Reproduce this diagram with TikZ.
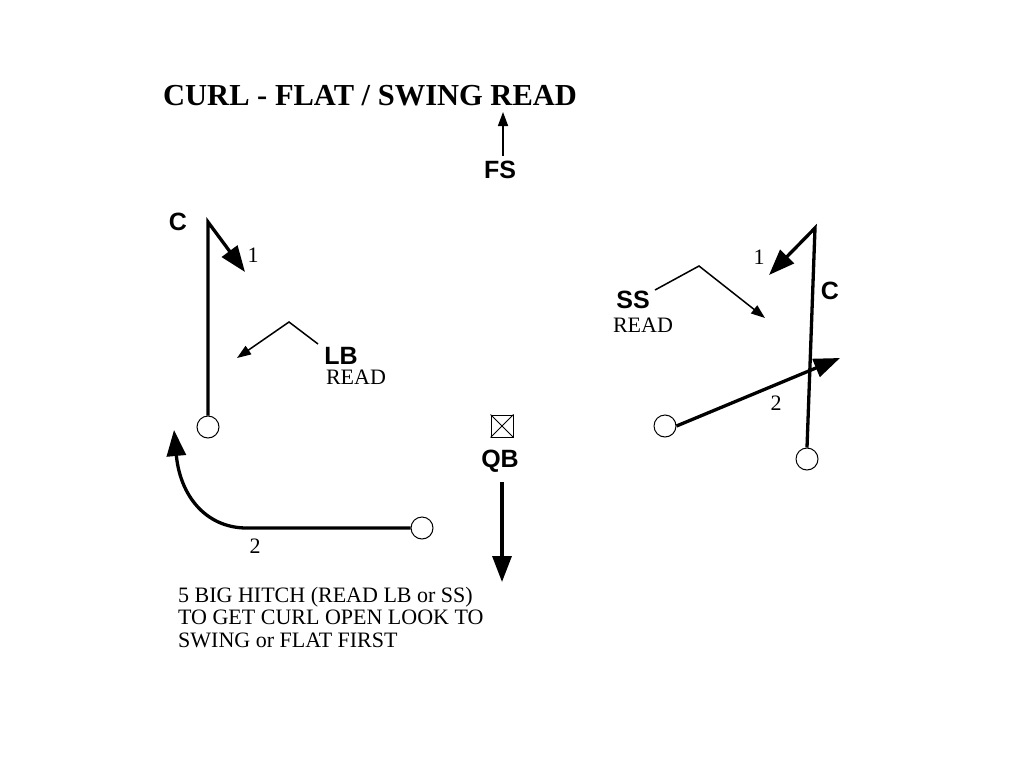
\documentclass[tikz,border=0pt]{standalone}
\usepackage{fontspec}
\setmainfont{Liberation Serif}
\setsansfont{Liberation Sans}
\usetikzlibrary{arrows.meta}
\begin{document}
\begin{tikzpicture}[x=1pt,y=-1pt,
  player/.style={draw,circle,minimum size=22pt,inner sep=0pt,line width=1pt},
  route/.style={line width=3.3pt,-{Triangle[length=26pt,width=19pt]}},
  thinarrow/.style={line width=1.5pt,-{Triangle[length=14pt,width=10pt]}},
  lbl/.style={font=\sffamily\bfseries\fontsize{25}{28}\selectfont,inner sep=0pt},
  txt/.style={font=\fontsize{22}{22.5}\selectfont,inner sep=0pt}]
\useasboundingbox (0,0) rectangle (1024,768);
% title
\node[anchor=west,inner sep=0pt,font=\bfseries\fontsize{30.5}{32}\selectfont] (title) at (163,96) {CURL - FLAT / SWING READ};
% FS
\node[lbl] (fs) at (500,170) {FS};
\coordinate (fstip) at (503,112);
\draw[thinarrow] (503,156) -- (fstip);
% left C
\node[player] (lc) at (208,427) {};
\node[lbl] (lcl) at (178,222) {C};
\node[txt] (l1) at (253,255) {1};
\coordinate (lctop) at (208,222);
\coordinate (lctip) at (245,272);
\draw[route,line join=miter] (lc.north) -- (lctop) -- (lctip);
% LB
\node[txt] (lbread) at (356,377) {READ};
\node[lbl,fill=white,inner sep=1pt] (lb) at (341,356) {LB};
\coordinate (lbm) at (289,322);
\coordinate (lbtip) at (237,358);
\draw[thinarrow] (318,344) -- (lbm) -- (lbtip);
% left bottom receiver
\node[player] (lr) at (422,528) {};
\node[txt] (l2) at (255,546) {2};
\coordinate (lcorner) at (245,528);
\coordinate (lrtip) at (174,430);
\draw[route] (lr.west) -- (lcorner) .. controls (205,527) and (180,495) .. (lrtip);
% QB
\node[draw,line width=1pt,minimum size=22pt,inner sep=0pt] (qbbox) at (502,426) {};
\draw[line width=1pt] (qbbox.north west) -- (qbbox.south east) (qbbox.north east) -- (qbbox.south west);
\node[lbl] (qb) at (500,461) {QB};
\coordinate (qbtip) at (502,582);
\draw[route] (502,482) -- (qbtip);
% right C
\node[player] (rc) at (807,459) {};
\node[lbl] (rcl) at (830,291) {C};
\node[txt] (r1) at (759,257) {1};
\coordinate (rctop) at (815,228);
\coordinate (rctip) at (769,275);
\draw[route,line join=miter] (rc.north) -- (rctop) -- (rctip);
% right slot
\node[player] (rs) at (665,426) {};
\node[txt] (r2) at (776,403) {2};
\coordinate (rstip) at (840,358);
\draw[route] (rs.east) -- (rstip);
% SS
\node[lbl] (ss) at (633,300) {SS};
\node[txt] (ssread) at (643,325) {READ};
\coordinate (ssm) at (699,266);
\coordinate (sstip) at (765,318);
\draw[thinarrow] (655,290) -- (ssm) -- (sstip);
% note
\node[txt,anchor=north west,align=left] (note) at (178,587) {5 BIG HITCH (READ LB or SS)\\TO GET CURL OPEN LOOK TO\\SWING or FLAT FIRST};
\end{tikzpicture}
\end{document}
